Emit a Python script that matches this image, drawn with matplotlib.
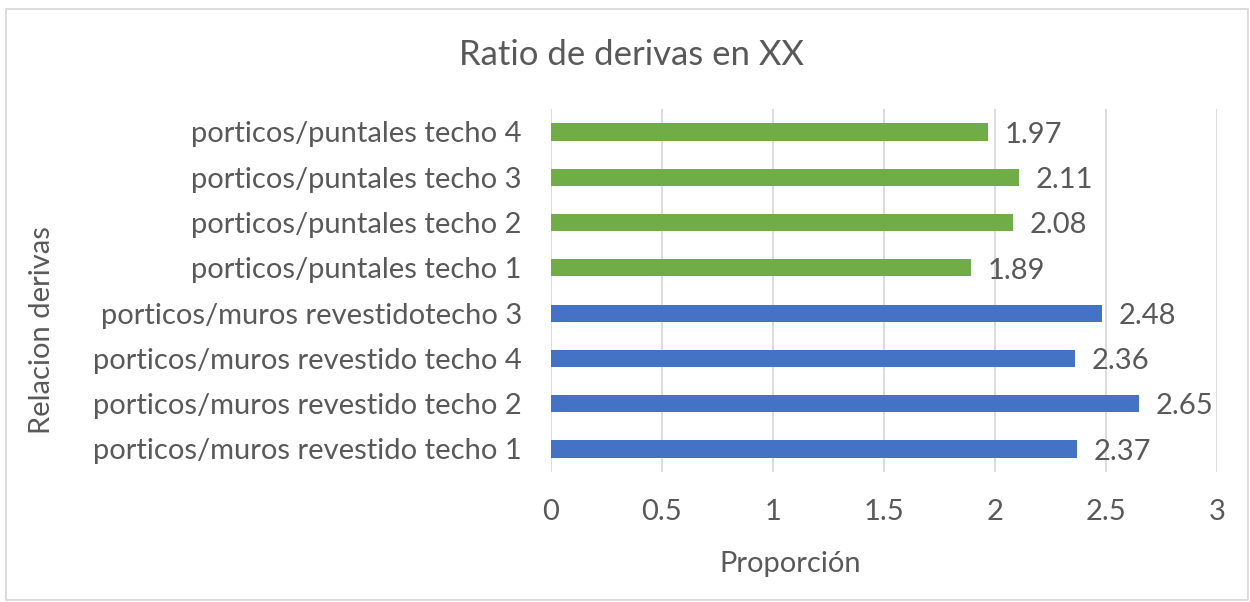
import matplotlib.pyplot as plt
from matplotlib.patches import Rectangle

# data, bottom to top as drawn
categorias = [
    "porticos/muros revestido techo 1",
    "porticos/muros revestido techo 2",
    "porticos/muros revestido techo 4",
    "porticos/muros revestidotecho 3",
    "porticos/puntales techo 1",
    "porticos/puntales techo 2",
    "porticos/puntales techo 3",
    "porticos/puntales techo 4",
]
valores = [2.37, 2.65, 2.36, 2.48, 1.89, 2.08, 2.11, 1.97]
grupo = ["muros", "muros", "muros", "muros", "puntales", "puntales", "puntales", "puntales"]
xticks = [0, 0.5, 1, 1.5, 2, 2.5, 3]

colores = {"muros": "#4472C4", "puntales": "#70AD47"}
gris = "#595959"
fs = 21

plt.rcParams['font.family'] = ['Lato', 'DejaVu Sans']

fig = plt.figure(figsize=(12.5, 6.02), dpi=100)
ax = fig.add_axes([0.4408, 0.2166, 0.5328, 0.6018])

ypos = list(range(len(categorias)))
ax.barh(ypos, valores, height=0.38, color=[colores[g] for g in grupo], zorder=3)

for y, v in zip(ypos, valores):
    ax.annotate(f"{v:.2f}", (v, y), xytext=(12, -2), textcoords="offset points",
                ha="left", va="center", fontsize=fs, color=gris)

ax.set_xlim(0, 3)
ax.set_ylim(-0.5, len(categorias) - 0.5)
ax.set_xticks(xticks)
ax.set_xticklabels([f"{t:g}" for t in xticks])
ax.set_yticks(ypos)
ax.set_yticklabels(categorias)
ax.tick_params(axis="both", length=0, labelsize=fs, labelcolor=gris)
ax.tick_params(axis="x", pad=20)
ax.tick_params(axis="y", pad=21)
ax.grid(axis="x", color="#D9D9D9", linewidth=1.3, zorder=0)
for s in ax.spines.values():
    s.set_visible(False)

ax.set_xlabel("Proporción", fontsize=fs, color=gris)
ax.xaxis.set_label_coords(0.359, -0.219)
ax.set_ylabel("Relacion derivas", fontsize=fs, color=gris)
ax.yaxis.set_label_coords(-0.745, 0.391)
fig.text(0.505, 0.909, "Ratio de derivas en XX", ha="center", va="center",
         fontsize=25, color=gris)

# chart border
fig.patches.append(Rectangle((0.005, 0.003), 0.993, 0.982, transform=fig.transFigure,
                             fill=False, edgecolor="#D9D9D9", linewidth=1.3))

fig.savefig("out.png", dpi=100)
